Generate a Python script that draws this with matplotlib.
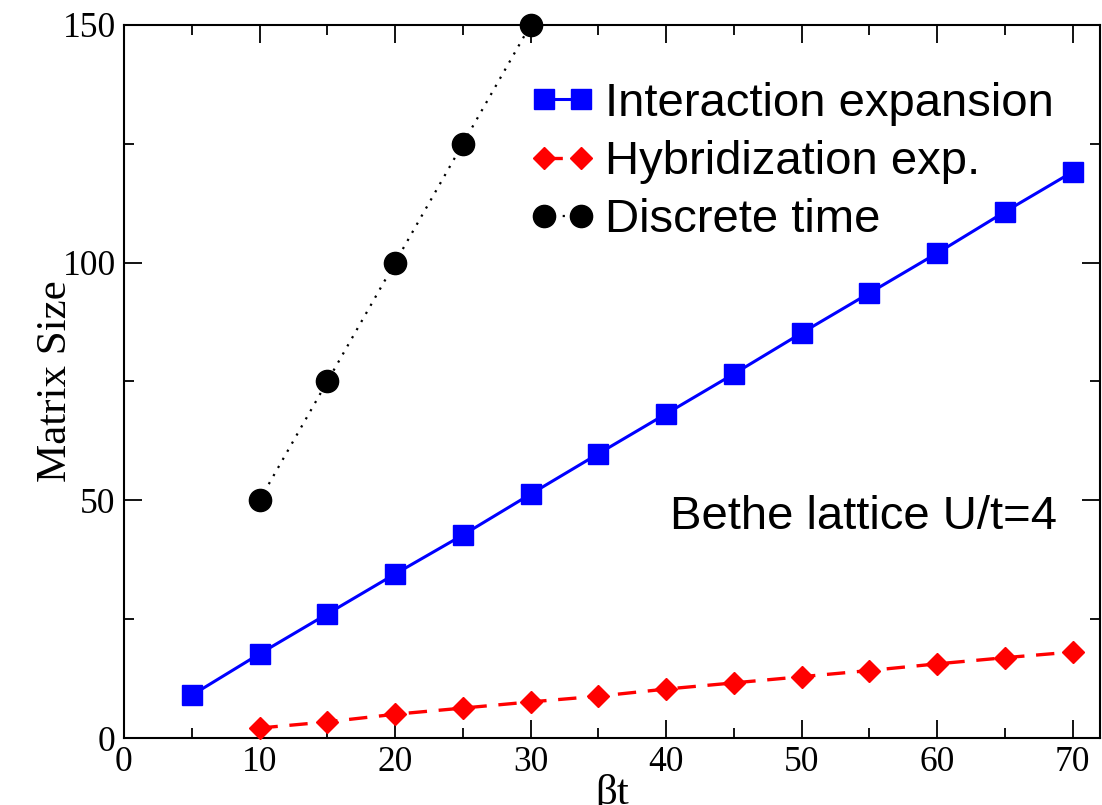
import matplotlib
matplotlib.use("Agg")
import matplotlib.pyplot as plt
from matplotlib.ticker import MultipleLocator

bt_int = [5, 10, 15, 20, 25, 30, 35, 40, 45, 50, 55, 60, 65, 70]
size_int = [9.0, 17.7, 26.1, 34.5, 42.7, 51.3, 59.8, 68.2, 76.6, 85.2, 93.6, 102.0, 110.7, 119.1]
bt_hyb = [10, 15, 20, 25, 30, 35, 40, 45, 50, 55, 60, 65, 70]
size_hyb = [2.1, 3.4, 5.0, 6.3, 7.6, 8.8, 10.3, 11.6, 12.9, 14.2, 15.6, 16.9, 18.1]
bt_disc = [10, 15, 20, 25, 30]
size_disc = [50, 75, 100, 125, 150]

labels = ["Interaction expansion", "Hybridization exp.", "Discrete time"]

fig = plt.figure(figsize=(11.02, 8.05), dpi=100)
ax = fig.add_axes([0.1125, 0.0832, 0.8855, 0.8858])

ax.plot(bt_int, size_int, color="#0000ff", lw=2.2, marker="s", ms=14.5,
        label=labels[0], clip_on=False, zorder=3)
ax.plot(bt_hyb, size_hyb, color="#ff0000", lw=2.4, ls=(0, (5.5, 3.5)), marker="D", ms=11.5,
        label=labels[1], clip_on=False, zorder=3)
ax.plot(bt_disc, size_disc, color="black", lw=1.6, ls=(0, (1, 3.2)), marker="o", ms=16,
        label=labels[2], clip_on=False, zorder=3)

ax.set_xlim(0, 72)
ax.set_ylim(0, 150)
ax.xaxis.set_major_locator(MultipleLocator(10))
ax.xaxis.set_minor_locator(MultipleLocator(5))
ax.yaxis.set_major_locator(MultipleLocator(50))
ax.yaxis.set_minor_locator(MultipleLocator(25))
ax.tick_params(which="both", direction="in", top=True, right=True, width=1.3)
ax.tick_params(which="major", length=13, labelsize=25.5, pad=6)
ax.tick_params(which="minor", length=7)
for lab in ax.get_xticklabels() + ax.get_yticklabels():
    lab.set_family("Liberation Serif")
for s in ax.spines.values():
    s.set_linewidth(1.5)

ax.set_xlabel("βt", family="Liberation Serif", fontsize=31, labelpad=-4)
ax.set_ylabel("Matrix Size", family="Liberation Serif", fontsize=31, labelpad=-9)

leg = ax.legend(loc="upper left", bbox_to_anchor=(0.416, 0.92), frameon=False,
                prop={"family": "Liberation Sans", "size": 34}, numpoints=2,
                handlelength=1.38, handletextpad=0.2, labelspacing=0.3,
                borderaxespad=0, borderpad=0)

ax.text(0.956, 0.31, "Bethe lattice U/t=4", transform=ax.transAxes, ha="right",
        va="center", family="Liberation Sans", fontsize=34)

fig.savefig("out.png", dpi=100)
